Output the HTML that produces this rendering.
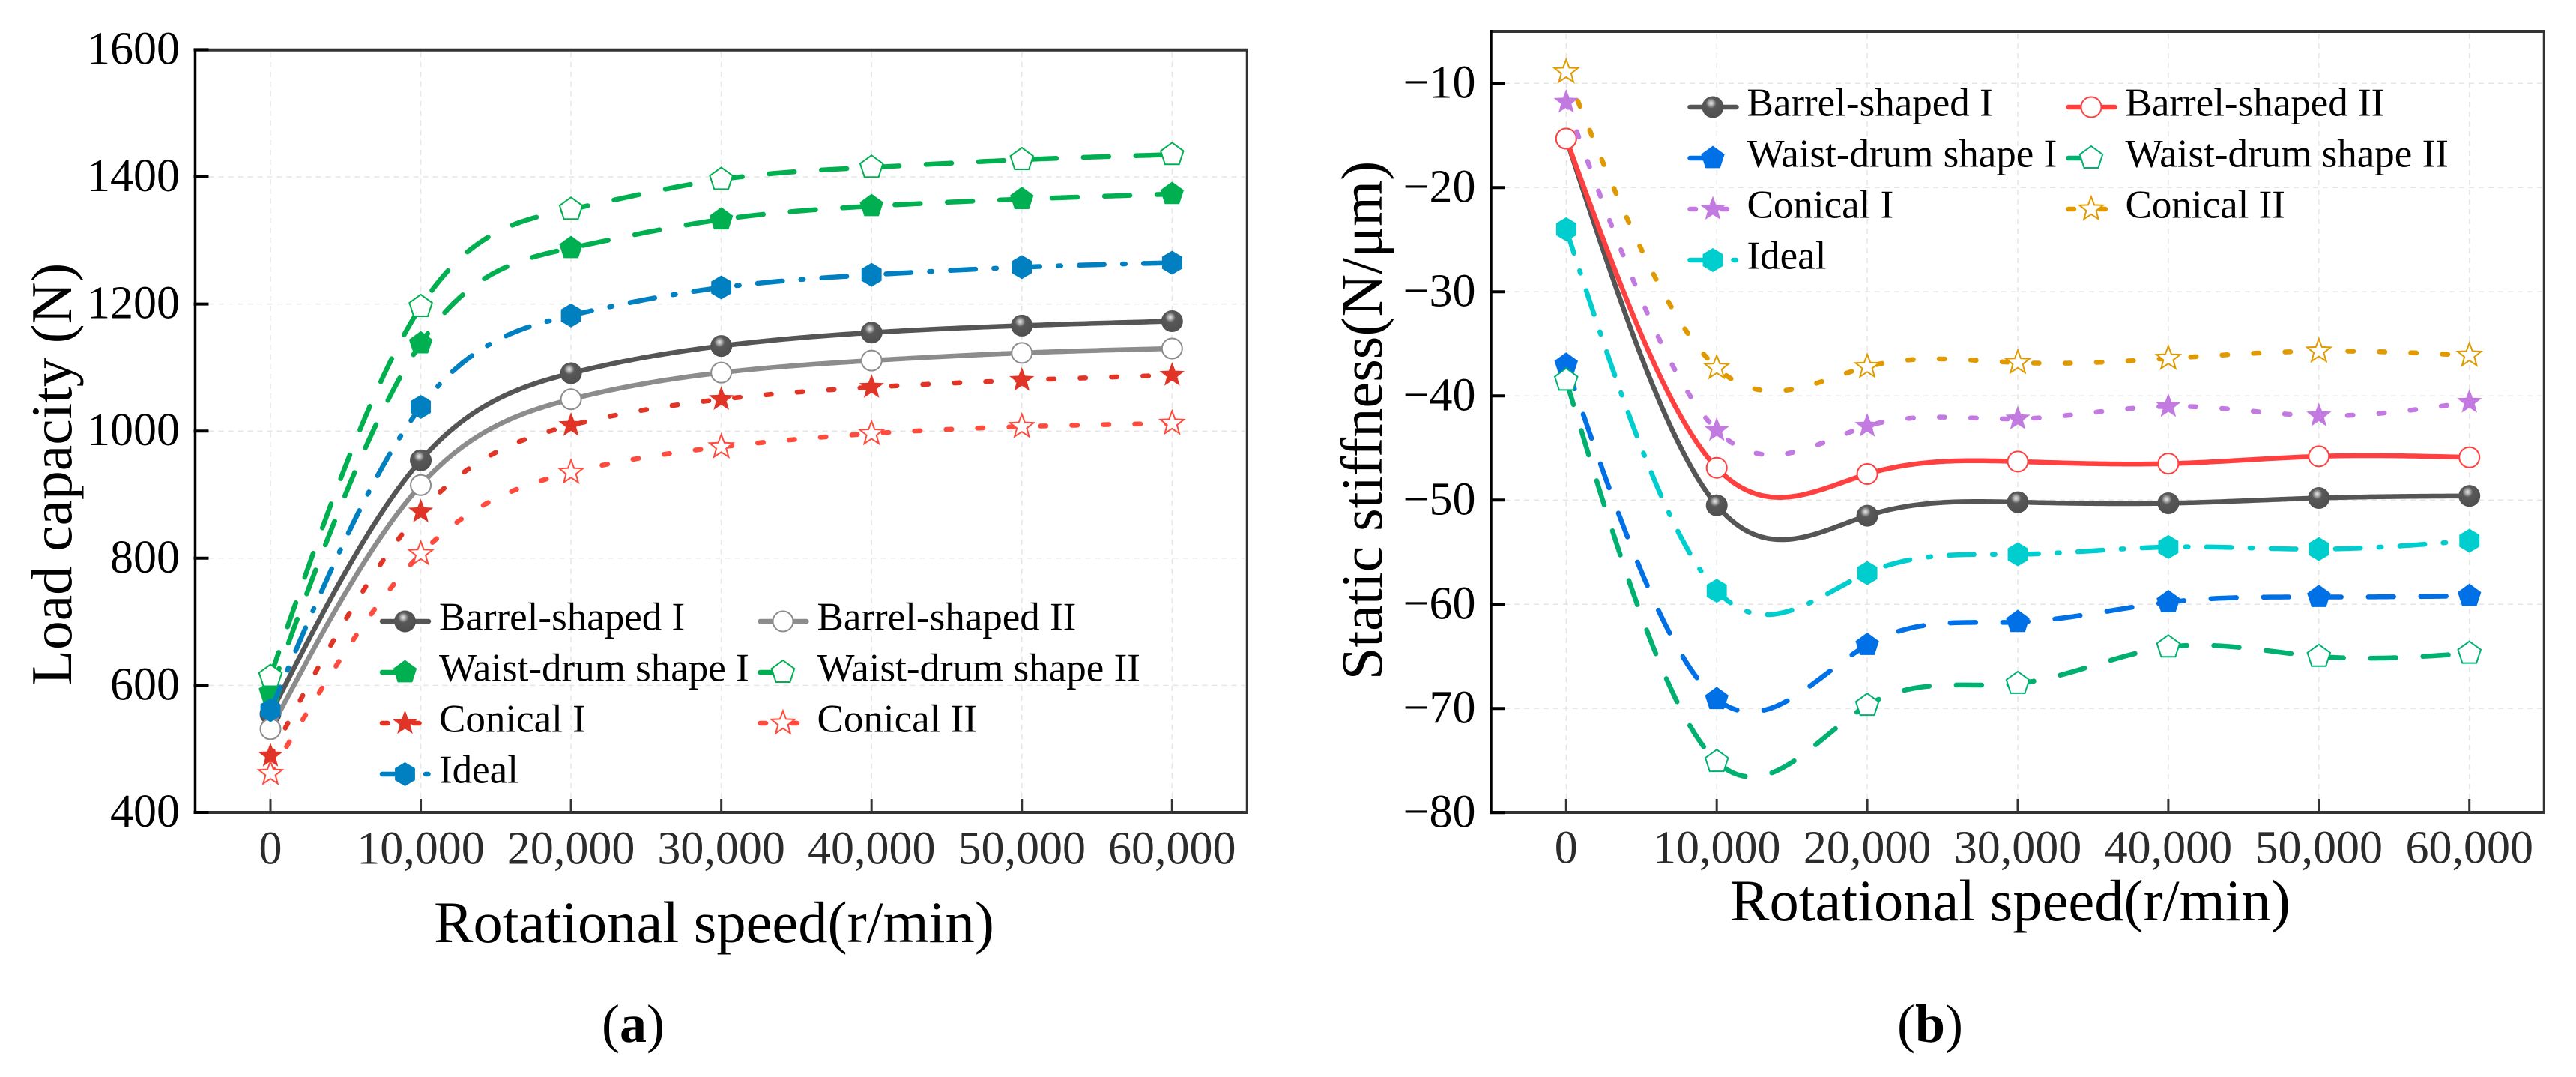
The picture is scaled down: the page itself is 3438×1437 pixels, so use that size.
<!DOCTYPE html>
<html lang="en">
<head>
<meta charset="utf-8">
<title>Load capacity and static stiffness vs rotational speed</title>
<style>
html,body{margin:0;padding:0;background:#fff;}
svg{display:block;}
text{font-family:"Liberation Serif",serif;fill:#000;}
</style>
</head>
<body>
<svg id="fig" xmlns="http://www.w3.org/2000/svg" width="3438" height="1437" viewBox="0 0 3438 1437">
<defs>
<radialGradient id="sphere" cx="0.42" cy="0.32" r="0.7">
<stop offset="0" stop-color="#e8e8e8"/>
<stop offset="0.14" stop-color="#b4b4b4"/>
<stop offset="0.34" stop-color="#585858"/>
<stop offset="1" stop-color="#4e4e4e"/>
</radialGradient>
</defs>
<rect width="3438" height="1437" fill="#fff"/>
</svg>
<script>
// ---- Shared category data ----
const speeds = [0, 10000, 20000, 30000, 40000, 50000, 60000];
const speedLabels = ['0', '10,000', '20,000', '30,000', '40,000', '50,000', '60,000'];

// ---- Panel (a): load capacity, N ----
const loadTicks = [400, 600, 800, 1000, 1200, 1400, 1600];
const loadBarrelI = [555, 954, 1091, 1134, 1155, 1166, 1173];
const loadBarrelII = [531, 915, 1050, 1092, 1111, 1123, 1130];
const loadWaistI = [589, 1138, 1288, 1333, 1354, 1365, 1373];
const loadWaistII = [614, 1196, 1349, 1396, 1415, 1427, 1435];
const loadConicalI = [489, 873, 1009, 1050, 1069, 1080, 1088];
const loadConicalII = [461, 807, 935, 975, 996, 1007, 1012];
const loadIdeal = [561, 1038, 1182, 1226, 1246, 1258, 1265];

// ---- Panel (b): static stiffness, N/um ----
const stiffTicks = [-80, -70, -60, -50, -40, -30, -20, -10];
const stiffBarrelI = [-15.3, -50.5, -51.5, -50.2, -50.3, -49.8, -49.6];
const stiffBarrelII = [-15.3, -46.9, -47.5, -46.3, -46.5, -45.8, -45.9];
const stiffWaistI = [-37, -69.1, -63.9, -61.7, -59.8, -59.3, -59.2];
const stiffWaistII = [-38.5, -75.1, -69.7, -67.6, -64.1, -65, -64.7];
const stiffConicalI = [-11.8, -43.3, -42.9, -42.2, -41, -41.9, -40.6];
const stiffConicalII = [-8.9, -37.3, -37.2, -36.8, -36.4, -35.7, -36.1];
const stiffIdeal = [-24, -58.7, -57, -55.2, -54.5, -54.7, -53.9];

const svg = document.getElementById('fig');
const NS = 'http://www.w3.org/2000/svg';

function mk(tag, attrs, name, parent) {
  const el = document.createElementNS(NS, tag);
  for (const k in attrs) el.setAttribute(k, attrs[k]);
  
  
  (parent || svg).appendChild(el);
  return el;
}
function txt(content, attrs, name, parent) {
  const el = mk('text', attrs, name, parent);
  el.textContent = content;
  return el;
}
function slug(s) { return s.toLowerCase().replace(/[^a-z0-9]+/g, '-'); }

// Natural cubic spline through the pixel-space points
function splinePath(xs, ys) {
  const n = xs.length;
  const h = [], a = new Array(n).fill(0), b = new Array(n).fill(1), c = new Array(n).fill(0), d = new Array(n).fill(0);
  for (let i = 0; i < n - 1; i++) h.push(xs[i + 1] - xs[i]);
  for (let i = 1; i < n - 1; i++) {
    a[i] = h[i - 1];
    b[i] = 2 * (h[i - 1] + h[i]);
    c[i] = h[i];
    d[i] = 6 * ((ys[i + 1] - ys[i]) / h[i] - (ys[i] - ys[i - 1]) / h[i - 1]);
  }
  for (let i = 1; i < n; i++) {
    const m = a[i] / b[i - 1];
    b[i] -= m * c[i - 1];
    d[i] -= m * d[i - 1];
  }
  const M = new Array(n).fill(0);
  M[n - 1] = d[n - 1] / b[n - 1];
  for (let i = n - 2; i >= 0; i--) M[i] = (d[i] - c[i] * M[i + 1]) / b[i];
  let path = 'M' + xs[0].toFixed(2) + ' ' + ys[0].toFixed(2);
  for (let i = 0; i < n - 1; i++) {
    const steps = 40;
    for (let s = 1; s <= steps; s++) {
      const t = s / steps, A = 1 - t, B = t;
      const y = A * ys[i] + B * ys[i + 1] + ((A * A * A - A) * M[i] + (B * B * B - B) * M[i + 1]) * h[i] * h[i] / 6;
      path += 'L' + (xs[i] + t * h[i]).toFixed(2) + ' ' + y.toFixed(2);
    }
  }
  return path;
}

function polyPts(cx, cy, rx, ry, n, rot) {
  const p = [];
  for (let i = 0; i < n; i++) {
    const ang = rot + i * 2 * Math.PI / n;
    p.push((cx + rx * Math.cos(ang)).toFixed(2) + ',' + (cy + ry * Math.sin(ang)).toFixed(2));
  }
  return p.join(' ');
}
function starPts(cx, cy, R) {
  const p = [];
  for (let i = 0; i < 10; i++) {
    const r = i % 2 ? R * 0.42 : R;
    const ang = -Math.PI / 2 + i * Math.PI / 5;
    p.push((cx + r * Math.cos(ang)).toFixed(2) + ',' + (cy + r * Math.sin(ang)).toFixed(2));
  }
  return p.join(' ');
}
function marker(kind, color, cx, cy, name, parent) {
  const up = -Math.PI / 2;
  if (kind === 'sphere') return mk('circle', { cx: cx, cy: cy, r: 14.5, fill: 'url(#sphere)' }, name, parent);
  if (kind === 'ring') return mk('circle', { cx: cx, cy: cy, r: 13.5, fill: '#fff', stroke: color, 'stroke-width': 2 }, name, parent);
  if (kind === 'penta') return mk('polygon', { points: polyPts(cx, cy, 16.5, 16.5, 5, up), fill: color }, name, parent);
  if (kind === 'pentaOpen') return mk('polygon', { points: polyPts(cx, cy, 16, 16, 5, up), fill: '#fff', stroke: color, 'stroke-width': 2 }, name, parent);
  if (kind === 'star') return mk('polygon', { points: starPts(cx, cy, 17.5), fill: color }, name, parent);
  if (kind === 'starOpen') return mk('polygon', { points: starPts(cx, cy, 16.5), fill: '#fff', stroke: color, 'stroke-width': 2 }, name, parent);
  if (kind === 'hex') return mk('polygon', { points: polyPts(cx, cy, 15.5, 16, 6, up), fill: color }, name, parent);
}

const DASH = '34 36', DOT = '7.5 34.5', DASHDOT = '33.5 24.5 3.5 24.5';

function drawPanel(p) {
  const g = mk('g', {}, p.id + '-panel');
  const xS = v => p.x0 + (v / 10000) * p.xStep;
  const yS = v => p.yBase + (v - p.yBaseVal) * p.yPerUnit;

  // grid
  p.ticks.forEach(t => {
    mk('line', { x1: p.left + 18, x2: p.right - 3, y1: yS(t), y2: yS(t), stroke: '#e6e6e6', 'stroke-width': 1.5, 'stroke-dasharray': '7 6' }, p.id + '-grid-y', g);
  });
  speeds.forEach(s => {
    mk('line', { x1: xS(s), x2: xS(s), y1: p.top + 3, y2: p.bottom - 18, stroke: '#e6e6e6', 'stroke-width': 1.5, 'stroke-dasharray': '7 6' }, p.id + '-grid-x', g);
  });

  // series lines and markers
  p.series.forEach(s => {
    const sg = mk('g', {}, p.id + '-series-' + slug(s.name), g);
    mk('path', {
      d: splinePath(speeds.map(xS), s.values.map(yS)), fill: 'none', stroke: s.lineColor || s.color,
      'stroke-width': 6.5, 'stroke-linecap': s.dash ? 'round' : 'butt', 'stroke-dasharray': s.dash || 'none'
    }, 'series-line', sg);
    s.values.forEach((v, i) => marker(s.kind, s.color, xS(speeds[i]), yS(v), 'series-marker', sg));
  });

  // frame
  mk('line', { x1: p.left - 2, x2: p.right + 1.3, y1: p.top, y2: p.top, stroke: '#333', 'stroke-width': 4 }, p.id + '-top-border', g);
  mk('line', { x1: p.right, x2: p.right, y1: p.top, y2: p.bottom, stroke: '#333', 'stroke-width': 2.5 }, p.id + '-right-border', g);
  mk('line', { x1: p.left - 2, x2: p.right + 1.3, y1: p.bottom, y2: p.bottom, stroke: '#333', 'stroke-width': 4 }, p.id + '-x-axis', g);
  mk('line', { x1: p.left, x2: p.left, y1: p.top - 2, y2: p.bottom + 2, stroke: '#000', 'stroke-width': 3.5 }, p.id + '-y-axis', g);

  // ticks & labels
  speeds.forEach((s, i) => {
    mk('line', { x1: xS(s), x2: xS(s), y1: p.bottom - 18, y2: p.bottom, stroke: '#333', 'stroke-width': 3 }, p.id + '-x-tick', g);
    const lab = txt(speedLabels[i], { x: xS(s), y: p.xLabelY, 'font-size': 62, 'text-anchor': 'middle' }, p.id + '-x-tick-label', g);
    lab.style.fill = '#2b2b2b';
  });
  p.ticks.forEach(t => {
    mk('line', { x1: p.left - 2, x2: p.left + 18, y1: yS(t), y2: yS(t), stroke: '#000', 'stroke-width': 4 }, p.id + '-y-tick', g);
    txt(String(t).replace('-', '\u2212'), { x: p.left - 20.5, y: yS(t) + 19, 'font-size': 62, 'text-anchor': 'end' }, p.id + '-y-tick-label', g);
  });

  // axis titles
  txt(p.xTitle, { x: p.xTitleX, y: p.xTitleY, 'font-size': 78.5, 'text-anchor': 'middle' }, p.id + '-x-axis-title', g);
  txt(p.yTitle, { x: 0, y: 0, 'font-size': p.yTitleSize, 'text-anchor': 'middle', transform: 'translate(' + p.yTitleX + ' ' + p.yTitleY + ') rotate(-90)' }, p.id + '-y-axis-title', g);

  // legend
  const lg = mk('g', {}, p.id + '-legend', g);
  p.series.forEach((s, i) => {
    const col = i === 6 ? 0 : i % 2;
    const row = Math.floor(i / 2);
    const lx = p.legendX[col];
    const ly = p.legendY + row * p.legendRow;
    const eg = mk('g', {}, 'legend-entry-' + slug(s.name), lg);
    mk('line', {
      x1: lx + 3, x2: lx + 65, y1: ly, y2: ly, stroke: s.lineColor || s.color, 'stroke-width': 6.5,
      'stroke-linecap': 'round', 'stroke-dasharray': s.dash || 'none'
    }, 'legend-line', eg);
    marker(s.kind, s.color, lx + 33.5, ly, 'legend-marker', eg);
    txt(s.name, { x: lx + 79, y: ly + 11.5, 'font-size': 53 }, 'legend-label', eg);
  });

  // caption
  const cap = mk('text', { x: p.capX, y: 1390, 'font-size': 72, 'text-anchor': 'middle' }, p.id + '-caption', g);
  cap.appendChild(document.createTextNode('('));
  const bold = mk('tspan', { 'font-weight': 'bold' }, p.id + '-caption-letter', cap);
  bold.textContent = p.id;
  cap.appendChild(document.createTextNode(')'));
}

drawPanel({
  id: 'a', left: 260.5, right: 1664, top: 66.7, bottom: 1084, x0: 361, xStep: 200.55,
  yBaseVal: 400, yBase: 1084, yPerUnit: -169.6 / 200, ticks: loadTicks,
  xLabelY: 1152.7, xTitle: 'Rotational speed(r/min)', xTitleX: 953, xTitleY: 1257,
  yTitle: 'Load capacity (N)', yTitleSize: 77.5, yTitleX: 95, yTitleY: 632.5, capX: 845,
  legendX: [507, 1011.5], legendY: 829, legendRow: 68,
  series: [
    { name: 'Barrel-shaped I', values: loadBarrelI, color: '#555', kind: 'sphere' },
    { name: 'Barrel-shaped II', values: loadBarrelII, color: '#8c8c8c', kind: 'ring' },
    { name: 'Waist-drum shape I', values: loadWaistI, color: '#00b050', kind: 'penta', dash: DASH },
    { name: 'Waist-drum shape II', values: loadWaistII, color: '#00b050', kind: 'pentaOpen', dash: DASH },
    { name: 'Conical I', values: loadConicalI, color: '#e03526', kind: 'star', dash: DOT },
    { name: 'Conical II', values: loadConicalII, color: '#ff4b3e', kind: 'starOpen', dash: DOT },
    { name: 'Ideal', values: loadIdeal, color: '#0080c0', kind: 'hex', dash: DASHDOT }
  ]
});

drawPanel({
  id: 'b', left: 1990, right: 3395, top: 42, bottom: 1084, x0: 2090.3, xStep: 200.9,
  yBaseVal: -10, yBase: 111.3, yPerUnit: -13.9, ticks: stiffTicks,
  xLabelY: 1151.6, xTitle: 'Rotational speed(r/min)', xTitleX: 2683, xTitleY: 1228,
  yTitle: 'Static stiffness(N/\u03bcm)', yTitleSize: 78.5, yTitleX: 1844, yTitleY: 561, capX: 2576,
  legendX: [2252.5, 2757.5], legendY: 143, legendRow: 68,
  series: [
    { name: 'Barrel-shaped I', values: stiffBarrelI, color: '#555', kind: 'sphere' },
    { name: 'Barrel-shaped II', values: stiffBarrelII, color: '#ff4040', kind: 'ring' },
    { name: 'Waist-drum shape I', values: stiffWaistI, color: '#0070e6', kind: 'penta', dash: DASH },
    { name: 'Waist-drum shape II', values: stiffWaistII, color: '#00b070', kind: 'pentaOpen', dash: DASH },
    { name: 'Conical I', values: stiffConicalI, color: '#c27ae0', kind: 'star', dash: DOT },
    { name: 'Conical II', values: stiffConicalII, color: '#e09a00', kind: 'starOpen', dash: DOT },
    { name: 'Ideal', values: stiffIdeal, color: '#00cdcd', kind: 'hex', dash: DASHDOT }
  ]
});
</script>
</body>
</html>
